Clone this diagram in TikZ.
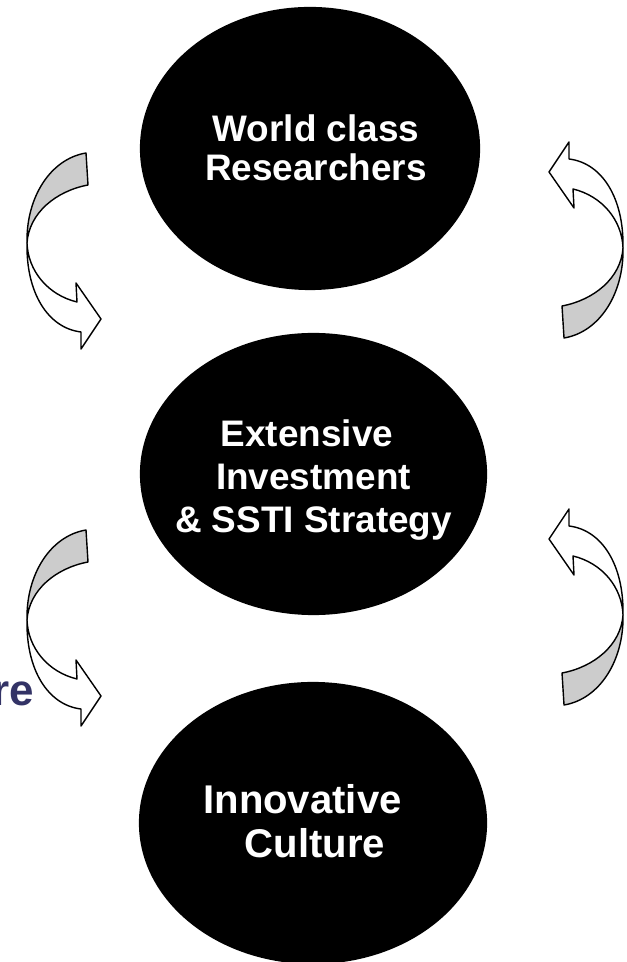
\documentclass[tikz,border=0pt]{standalone}
\usepackage{fontspec}
\setmainfont{Liberation Sans}
\usetikzlibrary{shapes.geometric}
\definecolor{navy}{RGB}{51,51,102}

\begin{document}
\begin{tikzpicture}[x=0.01cm,y=-0.01cm,
	blob/.style={ellipse,fill=black,inner sep=0pt},
	blobtext/.style={text=white,align=center,inner sep=0pt,font=\bfseries\fontsize{10.5}{11.1}\selectfont},
	back/.style={draw=black,fill=black!20,line width=0.4pt,line join=round},
	front/.style={draw=black,fill=white,line width=0.4pt,line join=round},
	twist/.pic={
		\draw[back] (0,0) .. controls (-36,6) and (-60,45) .. (-59,90)
			.. controls (-57,60) and (-30,38) .. (2,32) -- cycle;
		\draw[front] (-59,90) .. controls (-58,118) and (-38,142) .. (-9,149)
			-- (-10,130) -- (15,166) -- (-5,196) -- (-5,179)
			.. controls (-38,175) and (-60,140) .. (-59,90) -- cycle;
	}]
			\useasboundingbox (0,0) rectangle (626,962);
			% the three ellipses
			\node[blob,minimum width=3.4cm,minimum height=2.83cm] (res) at (310,148.5) {};
			\node[blobtext] (restext) at (316,147.5) {World class\\Researchers};
			\node[blob,minimum width=3.47cm,minimum height=2.82cm] (inv) at (313.5,474) {};
			\node[blobtext,font=\bfseries\fontsize{10.5}{12.2}\selectfont] (invtext) at (313.5,480)
				{Extensive\hspace*{0.13cm}\\Investment\\\& SSTI Strategy};
			\node[blob,minimum width=3.48cm,minimum height=2.82cm] (cul) at (313,823) {};
			\node[blobtext,font=\bfseries\fontsize{11.4}{12.5}\selectfont] (cultext) at (315,821)
				{Innovative\hspace*{0.25cm}\\Culture};
			% word cut at the left edge
			\node[text=navy,font=\bfseries\fontsize{12.5}{13}\selectfont,anchor=base east,inner sep=0pt] (cutword) at (35,705) {re};
			% curved arrows
			\pic at (86,153) {twist};
			\pic[rotate=180] at (564,338) {twist};
			\pic at (86,530) {twist};
			\pic[rotate=180] at (564,705) {twist};
\end{tikzpicture}
\end{document}
